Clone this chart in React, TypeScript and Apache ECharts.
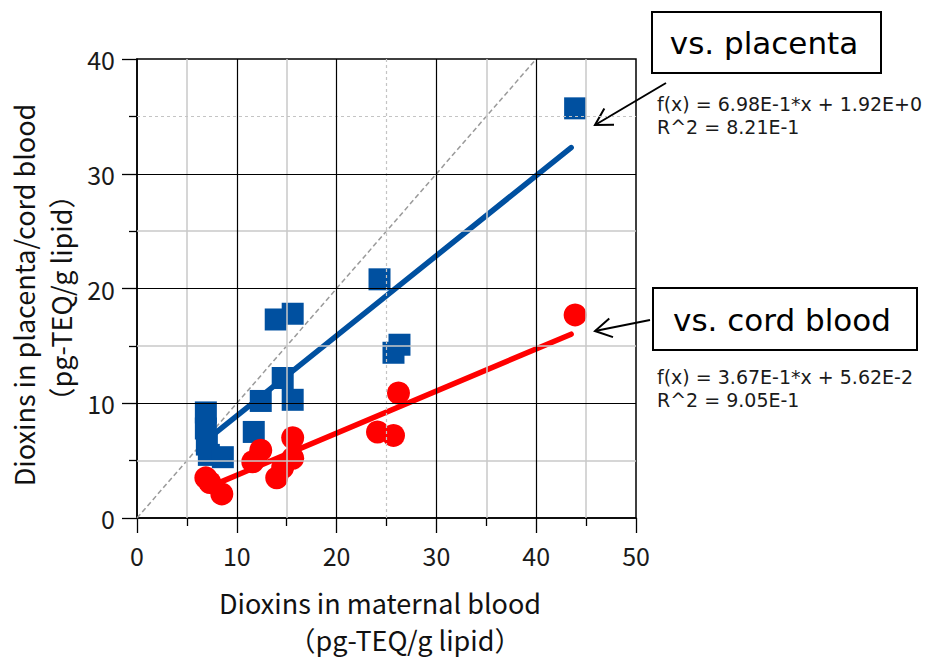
import React, { useEffect, useRef } from "react";
import * as echarts from "echarts";

// Maternal blood dioxins (x) paired with placenta dioxins (y), pg-TEQ/g lipid
const placentaMaternal = [43.9, 24.3, 13.9, 15.6, 26.3, 25.7, 14.6, 15.6, 12.4, 11.7, 6.9, 6.9, 7.0, 7.2, 8.6];
const placentaLevel = [35.7, 20.8, 17.3, 17.8, 15.1, 14.4, 12.2, 10.3, 10.2, 7.5, 9.2, 7.8, 6.4, 5.5, 5.3];

// Maternal blood dioxins (x) paired with cord blood dioxins (y)
const cordMaternal = [43.9, 26.2, 24.1, 25.7, 15.6, 15.6, 12.4, 11.6, 14.6, 14.0, 6.9, 7.3, 8.5];
const cordLevel = [17.7, 10.9, 7.5, 7.2, 7.0, 5.2, 5.9, 4.9, 4.4, 3.5, 3.5, 3.1, 2.1];

// Linear regression results
const placentaFit = { slope: 0.698, intercept: 1.92, r2: 0.821 };
const cordFit = { slope: 0.367, intercept: 0.0562, r2: 0.905 };
const placentaFitRange = [7.4, 43.5];
const cordFitRange = [8.3, 43.5];

// Axis ticks and grid lines
const xTicks = [0, 10, 20, 30, 40, 50];
const yTicks = [0, 10, 20, 30, 40];
const xMinorGrid = [5, 15, 35, 45];
const yMinorGrid = [5, 15, 25];
const xDottedGrid = [25];
const yDottedGrid = [35];
const identityLine = [0, 40];

const BLUE = "#0050a0";
const RED = "#ff0000";
const AXIS_FONT = '"Noto Sans CJK JP", "Noto Sans", sans-serif';
const NOTE_FONT = '"DejaVu Sans", Verdana, sans-serif';

const sci = (v: number) => v.toExponential(2).replace("e", "E");
const fitText = (f: { slope: number; intercept: number; r2: number }) =>
  `f(x) = ${sci(f.slope)}*x + ${sci(f.intercept)}\nR^2 = ${sci(f.r2)}`;
const fitLine = (f: { slope: number; intercept: number }, range: number[]) =>
  range.map((x) => [x, f.slope * x + f.intercept]);

function arrow(tipX: number, tipY: number, tailX: number, tailY: number) {
  const ang = Math.atan2(tailY - tipY, tailX - tipX);
  const len = 19;
  const spread = (30 * Math.PI) / 180;
  const b1 = [tipX + len * Math.cos(ang + spread), tipY + len * Math.sin(ang + spread)];
  const b2 = [tipX + len * Math.cos(ang - spread), tipY + len * Math.sin(ang - spread)];
  const style = { stroke: "#000", lineWidth: 2, fill: "none" };
  return {
    type: "group",
    children: [
      { type: "line", shape: { x1: tailX, y1: tailY, x2: tipX, y2: tipY }, style },
      { type: "polyline", shape: { points: [b1, [tipX, tipY], b2] }, style },
    ],
  };
}

function titleText(text: string, x: number, y: number, vertical: boolean) {
  return {
    type: "text",
    x,
    y,
    rotation: vertical ? Math.PI / 2 : 0,
    style: {
      text,
      font: `27px ${AXIS_FONT}`,
      lineHeight: 30,
      fill: "#111",
      align: "center",
      verticalAlign: "middle",
    },
  };
}

export default function App() {
  const ref = useRef<HTMLDivElement>(null);

  useEffect(() => {
    if (!ref.current) return;
    const chart = echarts.init(ref.current, undefined, { renderer: "svg" });

    const gridLine = (axis: "xAxis" | "yAxis", v: number, lineStyle: any) => ({
      [axis]: v,
      lineStyle,
    });
    const minorStyle = { color: "#c8c8c8", width: 1.5, type: "solid" };
    const majorStyle = { color: "#000", width: 1.2, type: "solid" };
    const dottedStyle = { color: "#c4c4c4", width: 1.2, type: [3, 3] };

    const gridLines = [
      ...xMinorGrid.map((v) => gridLine("xAxis", v, minorStyle)),
      ...yMinorGrid.map((v) => gridLine("yAxis", v, minorStyle)),
      ...xDottedGrid.map((v) => gridLine("xAxis", v, dottedStyle)),
      ...yDottedGrid.map((v) => gridLine("yAxis", v, dottedStyle)),
      ...xTicks.slice(1, -1).map((v) => gridLine("xAxis", v, majorStyle)),
      ...yTicks.slice(1, -1).map((v) => gridLine("yAxis", v, majorStyle)),
    ];

    const axisCommon = {
      type: "value" as const,
      interval: 10,
      axisLine: { show: true, lineStyle: { color: "#000", width: 1.5 } },
      axisTick: { show: true, inside: false, length: 15, lineStyle: { color: "#000", width: 1.3 } },
      minorTick: { show: true, splitNumber: 2, length: 8, lineStyle: { color: "#000", width: 1.3 } },
      splitLine: { show: false },
      minorSplitLine: { show: false },
    };

    chart.setOption({
      animation: false,
      backgroundColor: "#fff",
      grid: {
        left: 137,
        top: 59,
        width: 499,
        height: 459,
        show: true,
        borderColor: "#000",
        borderWidth: 1.5,
        backgroundColor: "transparent",
      },
      xAxis: {
        ...axisCommon,
        min: xTicks[0],
        max: xTicks[xTicks.length - 1],
        axisLabel: { fontSize: 25, color: "#1a1a1a", fontFamily: AXIS_FONT, margin: 24 },
      },
      yAxis: {
        ...axisCommon,
        min: yTicks[0],
        max: yTicks[yTicks.length - 1],
        axisLabel: { fontSize: 25, color: "#1a1a1a", fontFamily: AXIS_FONT, margin: 22 },
      },
      series: [
        {
          name: "y = x",
          type: "line",
          data: identityLine.map((v) => [v, v]),
          showSymbol: false,
          silent: true,
          z: 1,
          lineStyle: { color: "#9a9a9a", width: 1.5, type: [5, 3] },
          markLine: {
            silent: true,
            symbol: ["none", "none"],
            label: { show: false },
            data: gridLines,
          },
        },
        {
          name: "placenta fit",
          type: "line",
          data: fitLine(placentaFit, placentaFitRange),
          showSymbol: false,
          z: 3,
          lineStyle: { color: BLUE, width: 5.5, cap: "round" },
        },
        {
          name: "cord blood fit",
          type: "line",
          data: fitLine(cordFit, cordFitRange),
          showSymbol: false,
          z: 3,
          lineStyle: { color: RED, width: 5.5, cap: "round" },
        },
        {
          name: "vs. placenta",
          type: "scatter",
          symbol: "rect",
          symbolSize: 22,
          z: 4,
          itemStyle: { color: BLUE, opacity: 1 },
          data: placentaMaternal.map((x, i) => [x, placentaLevel[i]]),
        },
        {
          name: "vs. cord blood",
          type: "scatter",
          symbol: "circle",
          symbolSize: 23,
          z: 4,
          itemStyle: { color: RED, opacity: 1 },
          data: cordMaternal.map((x, i) => [x, cordLevel[i]]),
        },
      ],
      graphic: [
        // Axis titles
        titleText("Dioxins in placenta/cord blood", 23, 295, true),
        titleText("（pg-TEQ/g lipid）", 60, 298, true),
        titleText("Dioxins in maternal blood", 380, 602, false),
        titleText("（pg-TEQ/g lipid）", 405, 639, false),
        // Callout boxes
        {
          type: "rect",
          shape: { x: 652, y: 12, width: 229, height: 61 },
          style: { fill: "#fff", stroke: "#000", lineWidth: 2 },
        },
        {
          type: "text",
          x: 764,
          y: 43,
          style: {
            text: "vs. placenta",
            font: `31px ${NOTE_FONT}`,
            fill: "#000",
            align: "center",
            verticalAlign: "middle",
          },
        },
        {
          type: "rect",
          shape: { x: 653, y: 288, width: 264, height: 62 },
          style: { fill: "#fff", stroke: "#000", lineWidth: 2 },
        },
        {
          type: "text",
          x: 782,
          y: 320,
          style: {
            text: "vs. cord blood",
            font: `31px ${NOTE_FONT}`,
            fill: "#000",
            align: "center",
            verticalAlign: "middle",
          },
        },
        // Regression equations
        {
          type: "text",
          x: 657,
          y: 92,
          style: {
            text: fitText(placentaFit),
            font: `19px ${NOTE_FONT}`,
            lineHeight: 23,
            fill: "#1a1a1a",
            align: "left",
            verticalAlign: "top",
          },
        },
        {
          type: "text",
          x: 657,
          y: 365,
          style: {
            text: fitText(cordFit),
            font: `19px ${NOTE_FONT}`,
            lineHeight: 23,
            fill: "#1a1a1a",
            align: "left",
            verticalAlign: "top",
          },
        },
        // Pointers to the last points
        arrow(595, 125, 666, 83),
        arrow(595, 331, 650, 320),
      ],
    });

    return () => chart.dispose();
  }, []);

  return (
    <div
      ref={ref}
      style={{ position: "fixed", left: 0, top: 0, width: 928, height: 658 }}
    />
  );
}
